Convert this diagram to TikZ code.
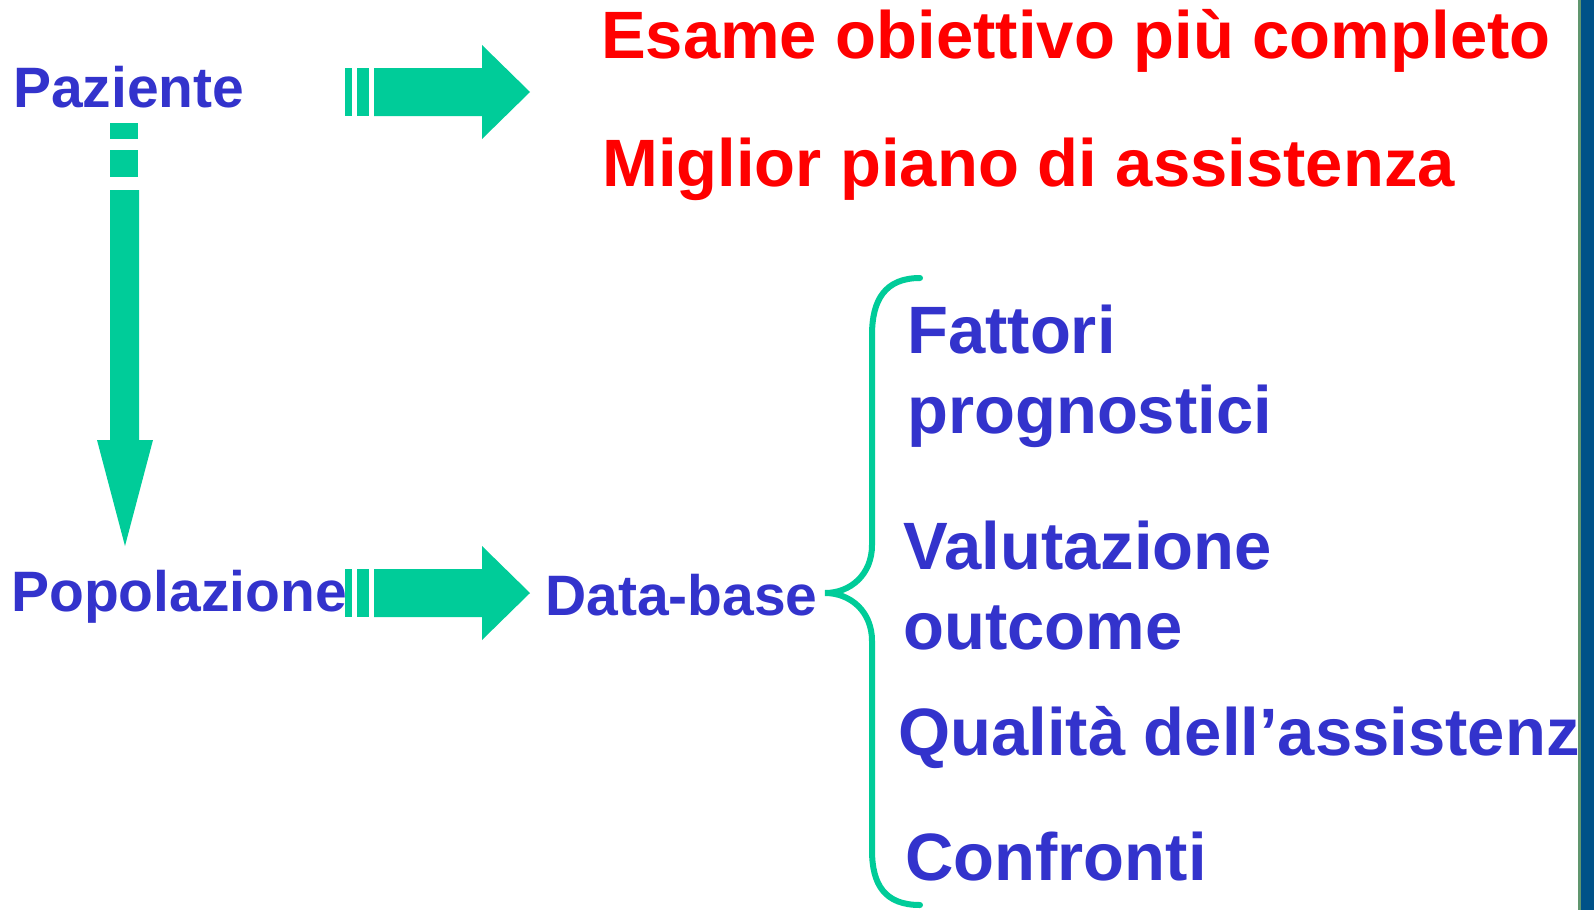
\documentclass[tikz,border=0pt]{standalone}
\usepackage{fontspec}
\setmainfont{Liberation Sans}
\usetikzlibrary{positioning}

\definecolor{labelblue}{RGB}{51,51,204}
\definecolor{arrowgreen}{RGB}{0,204,153}
\definecolor{stripblue}{RGB}{0,82,136}
\definecolor{stripgreen}{RGB}{96,150,110}

\begin{document}
\begin{tikzpicture}[x=1pt,y=-1pt,
  left node/.style={anchor=base west,inner sep=0pt,text=labelblue,font=\fontsize{57}{60}\selectfont\bfseries},
  red node/.style={anchor=base west,inner sep=0pt,text=red,font=\fontsize{67}{70}\selectfont\bfseries},
  item node/.style={anchor=base west,inner sep=0pt,text=labelblue,align=left,font=\fontsize{67}{80}\selectfont\bfseries},
  block/.style={fill=arrowgreen,draw=none},
  brace/.style={draw=arrowgreen,line width=6pt,line cap=round}]

  \fill[white] (0,0) rectangle (1594,910);
  \useasboundingbox (0,0) rectangle (1594,910);

  \node[left node] (paziente) at (13,107) {Paziente};
  \node[left node] (popolazione) at (11,611) {Popolazione};
  \node[left node] (database) at (545,615) {Data-base};

  \node[red node] (esame) at (601,58) {Esame obiettivo più completo};
  \node[red node] (piano) at (602,186) {Miglior piano di assistenza};

  % multi-line nodes sit on their last line
  \node[item node] (fattori) at (907,433) {Fattori\\prognostici};
  \node[item node] (valutazione) at (903,649) {Valutazione\\outcome};
  \node[item node] (qualita) at (898,755) {Qualità dell’assistenz};
  \node[item node] (confronti) at (905,880) {Confronti};

  % block arrows
  \foreach \yc in {92,593} {
    \fill[block] (345,\yc-24) rectangle (352,\yc+24);
    \fill[block] (357,\yc-24) rectangle (369,\yc+24);
    \fill[block] (374,\yc-24) -- (482,\yc-24) -- (482,\yc-47) -- (530,\yc)
      -- (482,\yc+47) -- (482,\yc+24) -- (374,\yc+24) -- cycle;
  }
  \fill[block] (110,123) rectangle (138,139);
  \fill[block] (110,150) rectangle (138,177);
  \fill[block] (110,190) -- (139,190) -- (139,440) -- (153,440) -- (125,546)
    -- (97,440) -- (110,440) -- cycle;

  % brace
  \coordinate (bracetip) at (825,593);
  \draw[brace] (920,278) .. controls (885,278) and (872,300) .. (872,335)
    -- (872,545) .. controls (872,575) and (850,593) .. (bracetip)
    .. controls (850,593) and (872,611) .. (872,641)
    -- (872,850) .. controls (872,885) and (885,905) .. (920,905);

  % side strip
  \fill[stripgreen] (1578,0) rectangle (1581,910);
  \fill[stripblue] (1581,0) rectangle (1594,910);
\end{tikzpicture}
\end{document}
